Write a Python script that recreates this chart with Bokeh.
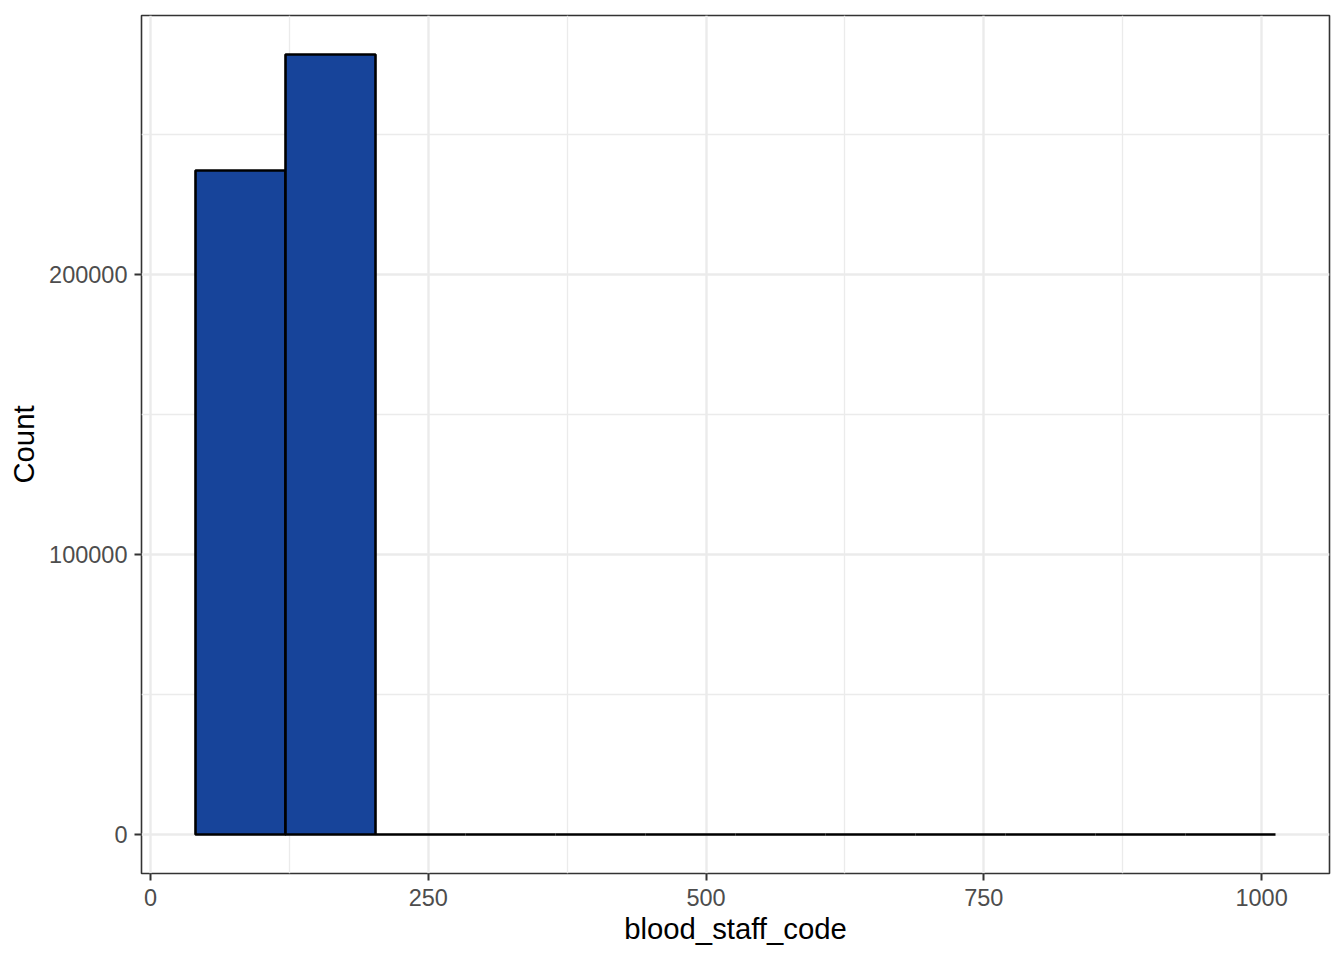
from bokeh.plotting import figure
from bokeh.models import Range1d, FixedTicker, BasicTickFormatter
from bokeh.embed import file_html
from bokeh.resources import INLINE

# Histogram data
bin_edges = [40.5, 121.5, 202.5, 283.5, 364.5, 445.5, 526.5, 607.5,
             688.5, 769.5, 850.5, 931.5, 1012.5]
counts = [237000, 278400, 0, 0, 0, 0, 0, 0, 0, 0, 0, 0]
x_ticks = [0, 250, 500, 750, 1000]
x_minor = [125, 375, 625, 875]
y_ticks = [0, 100000, 200000]
y_minor = [50000, 150000, 250000]

x_label = "blood_staff_code"
y_label = "Count"

lefts = bin_edges[:-1]
rights = bin_edges[1:]

span_x = bin_edges[-1] - bin_edges[0]
span_y = max(counts)

p = figure(width=1334, height=952,
           x_range=Range1d(bin_edges[0] - 0.05 * span_x, bin_edges[-1] + 0.05 * span_x),
           y_range=Range1d(-0.05 * span_y, span_y * 1.05),
           output_backend="svg", toolbar_location=None,
           min_border_left=141, min_border_right=5,
           min_border_top=15, min_border_bottom=79)

p.background_fill_color = "white"
p.border_fill_color = "white"
p.outline_line_color = "#333333"
p.outline_line_width = 1.6

p.quad(left=lefts, right=rights, top=counts, bottom=0,
       fill_color="#17449a", line_color="black", line_width=2.6)

for ax in (p.xaxis[0], p.yaxis[0]):
    ax.axis_line_color = None
    ax.major_tick_line_color = "#333333"
    ax.major_tick_line_width = 2
    ax.major_tick_out = 7
    ax.major_tick_in = 0
    ax.minor_tick_out = 0
    ax.minor_tick_in = 0
    ax.major_label_text_font = "Liberation Sans"
    ax.major_label_text_font_size = "23.5px"
    ax.major_label_text_color = "#4d4d4d"
    ax.axis_label_text_font = "Liberation Sans"
    ax.axis_label_text_font_size = "29.3px"
    ax.axis_label_text_color = "black"
    ax.axis_label_text_font_style = "normal"

p.xaxis[0].ticker = FixedTicker(ticks=x_ticks, minor_ticks=x_minor)
p.yaxis[0].ticker = FixedTicker(ticks=y_ticks, minor_ticks=y_minor)
p.yaxis[0].formatter = BasicTickFormatter(use_scientific=False)
p.xaxis[0].major_label_standoff = 8
p.yaxis[0].major_label_standoff = 7
p.xaxis[0].axis_label = x_label
p.yaxis[0].axis_label = y_label
p.xaxis[0].axis_label_standoff = 3
p.yaxis[0].axis_label_standoff = 6

for g in (p.xgrid[0], p.ygrid[0]):
    g.grid_line_color = "#ebebeb"
    g.grid_line_width = 2.4
    g.minor_grid_line_color = "#ebebeb"
    g.minor_grid_line_width = 1.3
    g.level = "underlay"

open("out.html", "w").write(file_html(p, INLINE))
